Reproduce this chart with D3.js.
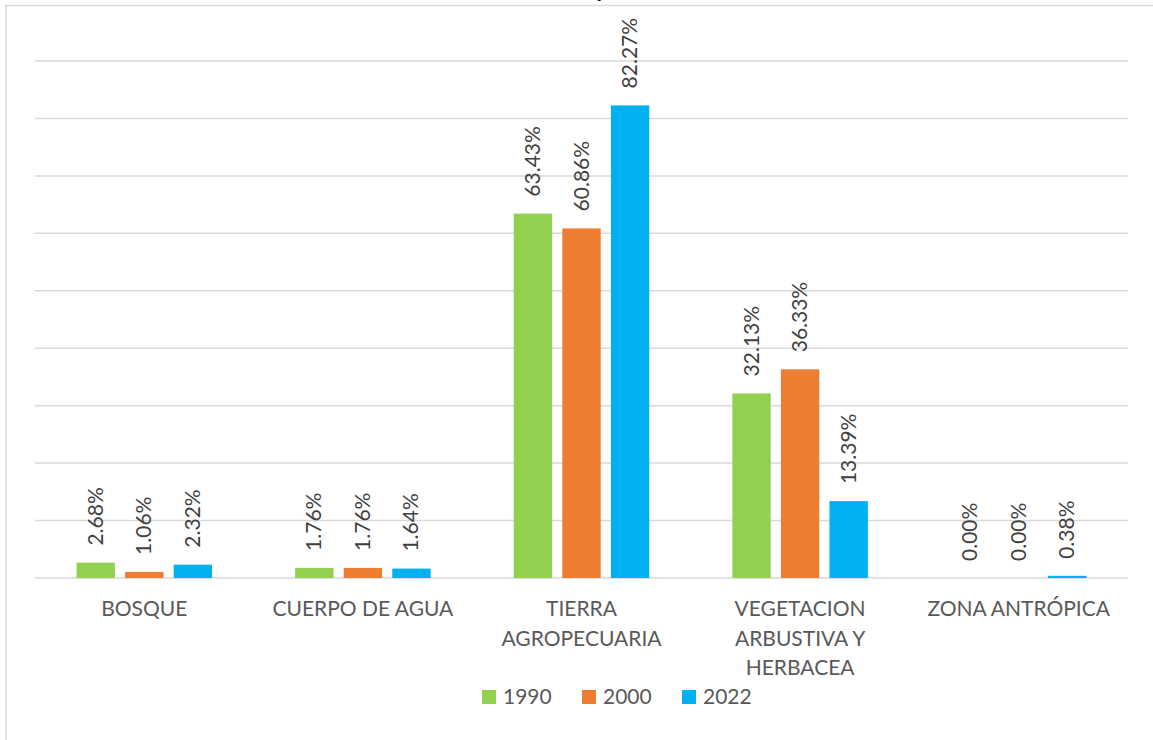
<!DOCTYPE html>
<html>
<head>
<meta charset="utf-8">
<script src="https://cdn.jsdelivr.net/npm/d3@7"></script>
<style>
  html, body { margin: 0; padding: 0; background: #fff; overflow: hidden; }
</style>
</head>
<body>
<div id="chart"></div>
<script>
// Cobertura de la tierra por año (% del área)
const CATEGORIES = ['BOSQUE', 'CUERPO DE AGUA', 'TIERRA AGROPECUARIA', 'VEGETACION ARBUSTIVA Y HERBACEA', 'ZONA ANTRÓPICA']
const YEARS = ['1990', '2000', '2022']
const VALUES_1990 = [2.68, 1.76, 63.43, 32.13, 0.00]
const VALUES_2000 = [1.06, 1.76, 60.86, 36.33, 0.00]
const VALUES_2022 = [2.32, 1.64, 82.27, 13.39, 0.38]
const Y_TICKS = [0, 10, 20, 30, 40, 50, 60, 70, 80, 90]
const TITLE = 'Gráfico N° 1: Variación temporal de la cobertura de la tierra'

const YEAR_COLORS = { '1990': '#92D050', '2000': '#ED7D31', '2022': '#00B0F0' }
const FONT = 'Lato, "Open Sans", sans-serif'

const width = 1153
const height = 740
const margin = { top: 61, right: 25, bottom: 162, left: 35 }

const series = { '1990': VALUES_1990, '2000': VALUES_2000, '2022': VALUES_2022 }
const rows = CATEGORIES.map((c, i) => ({
  category: c,
  bars: YEARS.map(y => ({ year: y, value: series[y][i] })),
}))

const svg = d3.select('#chart').append('svg')
  .attr('width', width).attr('height', height)

// chart frame
svg.append('rect')
  .attr('x', 6).attr('y', 5.5)
  .attr('width', width + 20).attr('height', height + 20)
  .attr('fill', 'none').attr('stroke', '#D9D9D9').attr('stroke-width', 1.5)

// title (clipped by the top edge, like the source)
svg.append('text')
  .attr('x', 620).attr('y', -3)
  .attr('text-anchor', 'middle')
  .attr('font-family', FONT).attr('font-weight', 'bold')
  .attr('font-size', '22px').attr('fill', '#000')
  .text(TITLE)

const x0 = d3.scaleBand()
  .domain(CATEGORIES)
  .range([margin.left, width - margin.right])
  .padding(0)

const groupW = 135.5
const x1 = d3.scaleBand()
  .domain(YEARS)
  .range([-groupW / 2, groupW / 2])
  .paddingInner(0.21)
  .paddingOuter(0)

const y = d3.scaleLinear()
  .domain([0, 90])
  .range([height - margin.bottom, margin.top])

// gridlines
svg.append('g').attr('class', 'grid-y')
  .selectAll('line')
  .data(Y_TICKS)
  .join('line')
  .attr('x1', margin.left).attr('x2', width - margin.right)
  .attr('y1', d => y(d)).attr('y2', d => y(d))
  .attr('stroke', '#D9D9D9').attr('stroke-width', 1.5)

// bars
const groups = svg.append('g').attr('class', 'bars')
  .selectAll('g')
  .data(rows)
  .join('g')
  .attr('transform', d => `translate(${x0(d.category) + x0.bandwidth() / 2},0)`)

groups.selectAll('rect')
  .data(d => d.bars)
  .join('rect')
  .attr('x', d => x1(d.year))
  .attr('width', x1.bandwidth())
  .attr('y', d => y(d.value))
  .attr('height', d => y(0) - y(d.value))
  .attr('fill', d => YEAR_COLORS[d.year])

// value labels, rotated
groups.selectAll('text.val')
  .data(d => d.bars)
  .join('text')
  .attr('class', 'val')
  .attr('transform', d => `translate(${x1(d.year) + x1.bandwidth() / 2 + 7},${y(d.value) - 17}) rotate(-90)`)
  .attr('text-anchor', 'start')
  .attr('font-family', FONT).attr('font-size', '21px')
  .attr('fill', '#404040')
  .text(d => d.value.toFixed(2) + '%')

// category axis
const xAxis = svg.append('g')
  .attr('class', 'x-axis')
  .attr('transform', `translate(0,${y(0)})`)
  .call(d3.axisBottom(x0).tickSize(0).tickPadding(0))
  .call(g => {
    g.select('.domain').remove()
    g.selectAll('.tick text').remove()
  })

const maxLabelW = x0.bandwidth() - 14
xAxis.selectAll('.tick').each(function (cat) {
  const t = d3.select(this).append('text')
    .attr('text-anchor', 'middle')
    .attr('font-family', FONT).attr('font-size', '21px')
    .attr('fill', '#595959')
  const words = cat.split(' ')
  let line = []
  let lineNo = 0
  let ts = t.append('tspan').attr('x', 0).attr('y', 38)
  words.forEach(w => {
    line.push(w)
    ts.text(line.join(' '))
    if (ts.node().getComputedTextLength() > maxLabelW && line.length > 1) {
      line.pop()
      ts.text(line.join(' '))
      line = [w]
      lineNo++
      ts = t.append('tspan').attr('x', 0).attr('y', 38 + lineNo * 29.5).text(w)
    }
  })
})

// legend
const legend = svg.append('g').attr('transform', 'translate(482,697)')
YEARS.forEach((yr, i) => {
  const g = legend.append('g').attr('transform', `translate(${i * 100},0)`)
  g.append('rect')
    .attr('x', 0).attr('y', -7)
    .attr('width', 14).attr('height', 14)
    .attr('fill', YEAR_COLORS[yr])
  g.append('text')
    .attr('x', 21).attr('y', 0)
    .attr('dy', '0.35em')
    .attr('font-family', FONT).attr('font-size', '21px')
    .attr('fill', '#595959')
    .text(yr)
})
</script>
</body>
</html>
